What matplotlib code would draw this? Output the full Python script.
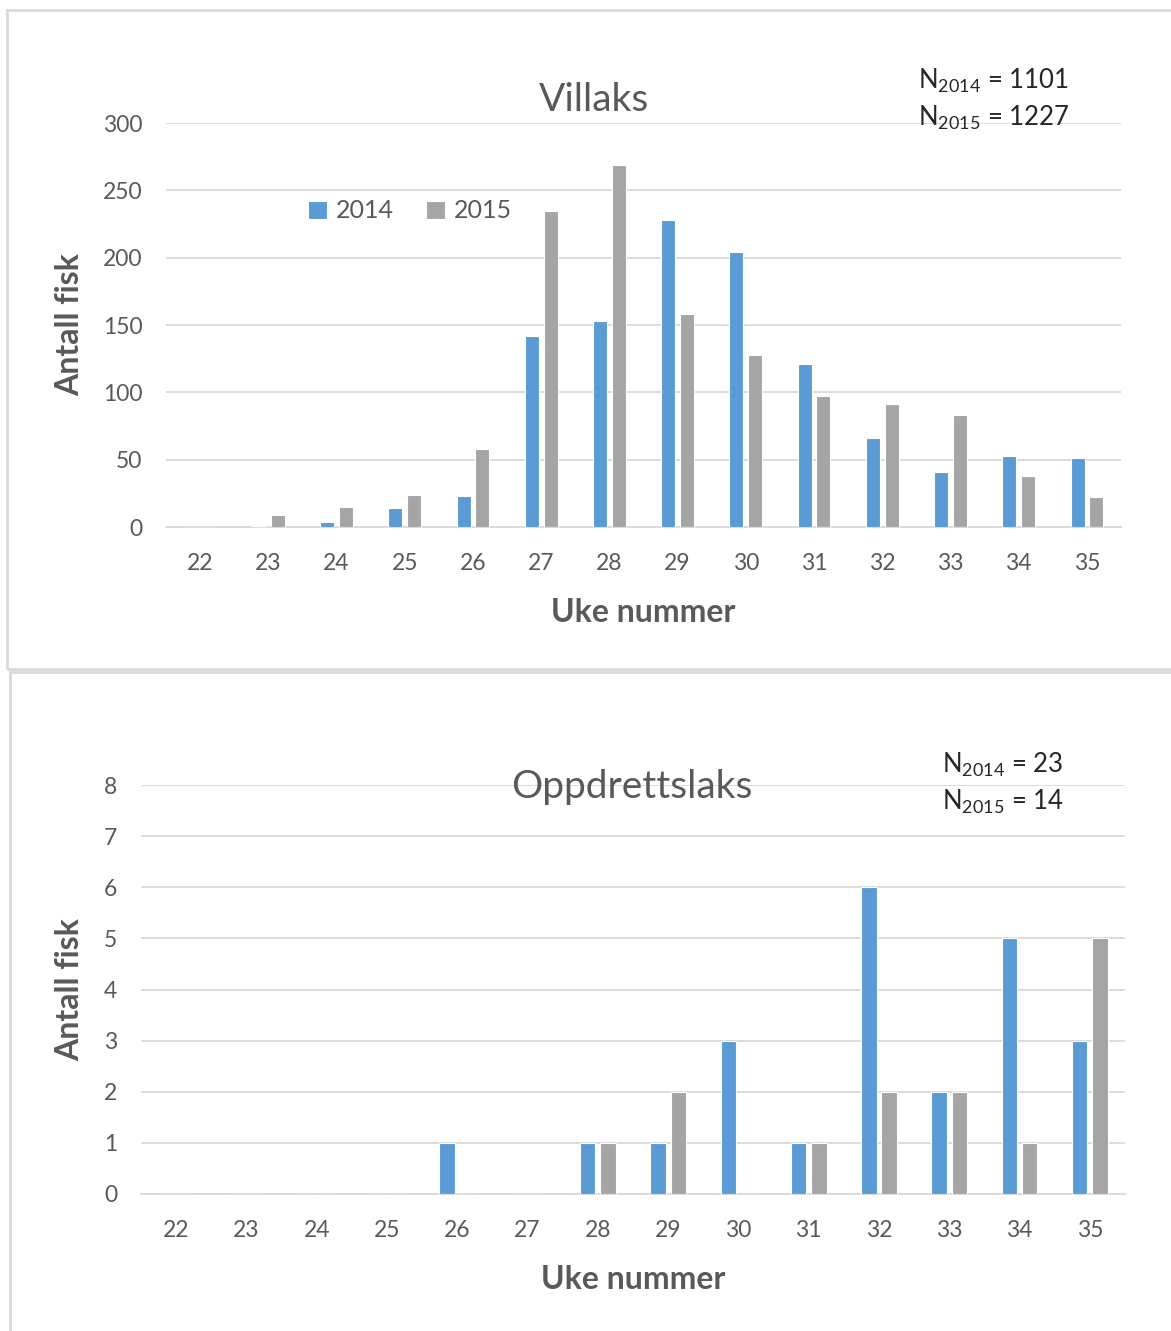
import matplotlib
matplotlib.use("Agg")
import matplotlib.pyplot as plt
import numpy as np
from matplotlib.patches import Rectangle

plt.rcParams['font.family'] = ['Lato', 'DejaVu Sans']
plt.rcParams['mathtext.fontset'] = 'custom'
plt.rcParams['mathtext.rm'] = 'Lato'
plt.rcParams['mathtext.default'] = 'regular'

weeks = [22, 23, 24, 25, 26, 27, 28, 29, 30, 31, 32, 33, 34, 35]
villaks_2014 = [0, 1, 4, 14, 23, 142, 153, 228, 204, 121, 66, 41, 53, 51]
villaks_2015 = [0, 9, 15, 24, 58, 235, 269, 158, 128, 97, 91, 83, 38, 22]
oppdrett_2014 = [0, 0, 0, 0, 1, 0, 1, 1, 3, 1, 6, 2, 5, 3]
oppdrett_2015 = [0, 0, 0, 0, 0, 0, 1, 2, 0, 1, 2, 2, 1, 5]
series_labels = ['2014', '2015']

BLUE = '#5B9BD5'
GRAY = '#A5A5A5'
TXT = '#595959'
GRID = '#D9D9D9'

W, H = 1171, 1331
fig = plt.figure(figsize=(W / 100, H / 100), dpi=100)

def fx(px):
    return px / W

def fy(py):
    return 1 - py / H

# panel borders
fig.patches.append(Rectangle((fx(7), fy(669)), fx(1175 - 7), fy(10) - fy(669),
                             transform=fig.transFigure, fill=False,
                             edgecolor=GRID, linewidth=2))
fig.patches.append(Rectangle((fx(10), fy(1335)), fx(1175 - 10), fy(672) - fy(1335),
                             transform=fig.transFigure, fill=False,
                             edgecolor=GRID, linewidth=2))


def make_axes(rect, v14, v15, ymax, ystep, width, sep):
    ax = fig.add_axes(rect)
    x = np.arange(len(weeks))
    ax.bar(x - sep / 2, v14, width, color=BLUE, edgecolor='white', linewidth=0.8,
           label=series_labels[0], zorder=3)
    ax.bar(x + sep / 2, v15, width, color=GRAY, edgecolor='white', linewidth=0.8,
           label=series_labels[1], zorder=3)
    ax.set_xlim(-0.5, len(weeks) - 0.5)
    ax.set_ylim(0, ymax)
    ax.set_yticks(np.arange(0, ymax + 0.001, ystep))
    ax.set_xticks(x)
    ax.set_xticklabels([str(w) for w in weeks])
    ax.yaxis.grid(True, color=GRID, linewidth=1.3, zorder=0)
    ax.set_axisbelow(True)
    for s in ['top', 'right', 'left']:
        ax.spines[s].set_visible(False)
    ax.spines['bottom'].set_color(GRID)
    ax.spines['bottom'].set_linewidth(1.3)
    ax.tick_params(axis='both', length=0, labelsize=16.5, labelcolor=TXT)
    ax.tick_params(axis='x', pad=19)
    ax.tick_params(axis='y', pad=17)
    ax.set_xlabel('Uke nummer', fontsize=23, fontweight='bold', color=TXT, labelpad=17)
    ax.set_ylabel('Antall fisk', fontsize=23, fontweight='bold', color=TXT)
    return ax

# top chart
ax1 = make_axes([fx(166), fy(527), fx(1121 - 166), fy(123) - fy(527)],
                villaks_2014, villaks_2015, 300, 50, 0.205, 0.274)
ax1.yaxis.set_label_coords(fx(84 - 166) / fx(1121 - 166), 0.5)
fig.text(fx(594), fy(100), 'Villaks', fontsize=28, color=TXT, ha='center', va='center')
fig.text(fx(918), fy(81), r'N$_{2014}$ = 1101', fontsize=18.5, color='#262626',
         ha='left', va='center')
fig.text(fx(918), fy(118), r'N$_{2015}$ = 1227', fontsize=18.5, color='#262626',
         ha='left', va='center')
leg = ax1.legend(loc='center', bbox_to_anchor=(fx(410), fy(211)),
                 bbox_transform=fig.transFigure, ncol=2, frameon=False,
                 fontsize=18, handlelength=0.75, handleheight=0.75,
                 handletextpad=0.35, columnspacing=1.3, labelcolor=TXT)

# bottom chart
ax2 = make_axes([fx(141), fy(1194), fx(1125 - 141), fy(785) - fy(1194)],
                oppdrett_2014, oppdrett_2015, 8, 1, 0.22, 0.29)
ax2.yaxis.set_label_coords(fx(84 - 141) / fx(1125 - 141), 0.5)
fig.text(fx(632), fy(787), 'Oppdrettslaks', fontsize=28, color=TXT, ha='center', va='center')
fig.text(fx(942), fy(765), r'N$_{2014}$ = 23', fontsize=18.5, color='#262626',
         ha='left', va='center')
fig.text(fx(942), fy(802), r'N$_{2015}$ = 14', fontsize=18.5, color='#262626',
         ha='left', va='center')

fig.savefig('out.png', dpi=100, facecolor='white')
